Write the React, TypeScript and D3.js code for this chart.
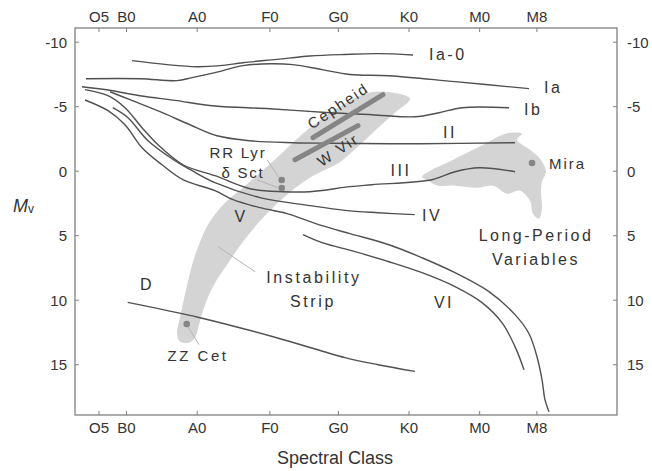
import React from "react";
import * as d3 from "d3";

type P = [number, number];

const W = 652;
const H = 471;

// Spectral class axis (O=0, B=1, A=2, F=3, G=4, K=5, M=6; subclass/10)
const spectralLabels = ["O5", "B0", "A0", "F0", "G0", "K0", "M0", "M8"];
const spectralValues = [0.61, 1, 2, 3.03, 4, 5, 6, 6.81];
const mvTicks = [-10, -5, 0, 5, 10, 15];

// Luminosity class sequences [spectral, Mv]
const seqIa0: P[] = [[1.077, -8.57], [1.573, -8.26], [1.998, -8.1], [2.323, -8.18], [2.649, -8.41], [3.13, -8.67], [3.597, -8.93], [4.093, -9.05], [4.561, -9.11], [5.056, -9.01]];
const seqIa: P[] = [[0.426, -7.17], [1.19, -7.17], [1.714, -7.02], [1.927, -7.25], [2.252, -7.64], [2.649, -8.18], [3.03, -8.33], [3.357, -8.26], [3.768, -7.87], [4.164, -7.5], [4.716, -7.4], [5.651, -6.94], [6.699, -6.4]];
const seqIb: P[] = [[0.369, -6.55], [0.737, -6.29], [1.214, -5.83], [1.686, -5.49], [2.252, -5.05], [3.031, -4.84], [3.881, -4.53], [4.475, -4.38], [5.084, -4.22], [5.424, -4.53], [5.75, -4.92], [6.416, -4.92]];
const seqII: P[] = [[0.766, -6.16], [1.049, -5.54], [1.474, -4.61], [1.898, -3.6], [2.281, -2.75], [2.748, -2.36], [3.357, -2.21], [3.881, -2.17], [5.155, -2.13], [6.501, -2.21]];
const seqIII: P[] = [[0.412, -6.32], [0.737, -5.85], [0.978, -4.92], [1.219, -3.37], [1.445, -2.05], [1.799, -0.5], [2.252, 0.35], [2.748, 1.36], [3.215, 1.59], [3.597, 1.59], [4.164, 1.2], [4.475, 1.05], [5.325, 0.66], [5.651, 0.04], [5.991, -0.27], [6.501, 0.04]];
const seqIV: P[] = [[0.804, -4.92], [1.02, -4.15], [1.304, -2.36], [1.686, -0.81], [1.927, -0.04], [2.252, 0.89], [2.89, 2.05], [3.597, 2.67], [4.093, 3.04], [4.561, 3.22], [5.08, 3.37]];
const seqV: P[] = [[0.412, -5.52], [0.737, -4.69], [0.978, -3.6], [1.219, -1.82], [1.502, -0.5], [1.799, 0.66], [2.252, 1.51], [2.507, 2.21], [2.89, 2.83], [3.272, 3.29], [3.768, 4.22], [4.164, 4.84], [4.716, 5.7], [5.184, 6.71], [5.651, 7.87], [6.132, 9.34], [6.501, 11.12], [6.699, 12.6], [6.812, 14.38], [6.883, 16.16], [6.925, 17.71], [6.982, 18.64]];
const seqVI: P[] = [[3.498, 4.92], [3.768, 5.54], [4.235, 6.24], [4.716, 7.02], [5.184, 7.87], [5.651, 8.95], [6.033, 10.19], [6.316, 11.74], [6.501, 13.6], [6.628, 15.39]];
const seqD: P[] = [[1.016, 10.17], [2.04, 11.36], [3.126, 12.91], [4.093, 14.45], [4.561, 15.0], [5.084, 15.52]];

// Regions
const instabilityStrip: P[] = [[1.757, 13.22], [1.714, 12.52], [1.757, 11.36], [1.842, 9.19], [1.941, 7.02], [2.026, 5.7], [2.153, 4.15], [2.394, 2.44], [2.649, 1.28], [3.13, -1.05], [3.597, -3.37], [4.065, -5.16], [4.376, -6.01], [4.66, -6.16], [5.014, -5.62], [4.801, -4.53], [4.561, -3.37], [4.306, -2.05], [4.008, -0.66], [3.668, 0.27], [3.357, 1.43], [2.932, 3.6], [2.649, 5.47], [2.422, 7.25], [2.238, 8.8], [2.111, 10.35], [2.026, 11.9], [1.969, 12.91], [1.884, 13.29]];
const longPeriodRegion: P[] = [[5.184, 0.43], [5.325, -0.12], [5.509, -0.58], [5.792, -1.36], [6.076, -2.13], [6.288, -2.75], [6.43, -2.98], [6.6, -2.91], [6.529, -2.44], [6.713, -1.67], [6.855, -0.97], [6.94, 0.04], [6.883, 0.81], [6.869, 1.67], [6.883, 2.83], [6.84, 3.68], [6.755, 3.29], [6.713, 2.29], [6.571, 1.51], [6.387, 1.74], [6.189, 1.12], [5.977, 1.28], [5.651, 1.12], [5.41, 1.12], [5.268, 0.74]];

// Variable-star bands
const cepheidBar: P[] = [[3.64, -2.6], [4.631, -5.93]];
const wVirBar: P[] = [[3.385, -0.89], [4.277, -3.53]];

// Individual stars
const stars: P[] = [[3.197, 0.68], [3.197, 1.3], [1.852, 11.84], [6.742, -0.64]];

// Leader lines
const leaders: [P, P][] = [
  [[2.989, -0.89], [3.159, 0.51]],
  [[2.847, 0.66], [3.144, 1.28]],
  [[2.295, 5.85], [2.819, 7.79]],
  [[1.87, 12.05], [2.026, 13.45]],
];

// Labels: [text, spectral, Mv, anchor, rotate, size, spacing]
type Lab = [string, number, number, "start" | "middle" | "end", number, number, number];
const labels: Lab[] = [
  ["Ia-0", 5.283, -9.03, "start", 0, 16, 2.5],
  ["Ia", 6.911, -6.47, "start", 0, 16, 2.5],
  ["Ib", 6.628, -4.77, "start", 0, 16, 2.5],
  ["II", 5.58, -2.98, "middle", 0, 16, 2.5],
  ["III", 4.886, -0.04, "middle", 0, 16, 2.5],
  ["IV", 5.184, 3.45, "start", 0, 16, 2.5],
  ["V", 2.621, 3.53, "middle", 0, 16, 2.5],
  ["VI", 5.495, 10.19, "middle", 0, 16, 2.5],
  ["D", 1.29, 8.8, "middle", 0, 16, 2.5],
  ["Mira", 6.982, -0.58, "start", 0, 15, 2],
  ["RR Lyr", 2.578, -1.43, "middle", 0, 15, 1.8],
  ["δ Sct", 2.649, 0.12, "middle", 0, 15, 1.8],
  ["ZZ Cet", 2.012, 14.3, "middle", 0, 15, 2.5],
  ["Instability", 3.654, 8.26, "middle", 0, 16, 2.6],
  ["Strip", 3.64, 10.12, "middle", 0, 16, 2.6],
  ["Long-Period", 6.798, 5.0, "middle", 0, 16, 2.5],
  ["Variables", 6.798, 6.86, "middle", 0, 16, 2.5],
  ["Cepheid", 3.994, -5.08, "middle", -34, 15, 2],
  ["W Vir", 3.994, -1.67, "middle", -34, 15, 2],
];

const sequences: P[][] = [seqIa0, seqIa, seqIb, seqII, seqIII, seqIV, seqV, seqVI, seqD];

const left = 75, right = 617, top = 28, bottom = 415;
const FONT = "'Liberation Sans', Arial, Helvetica, sans-serif";

export default function App() {
  const x = d3.scaleLinear().domain([0.27, 7.945]).range([left, right]);
  const y = d3.scaleLinear().domain([-11.1, 18.9]).range([top, bottom]);

  const line = d3
    .line<P>()
    .x((d) => x(d[0]))
    .y((d) => y(d[1]))
    .curve(d3.curveCatmullRom.alpha(0.5));
  const closed = d3
    .line<P>()
    .x((d) => x(d[0]))
    .y((d) => y(d[1]))
    .curve(d3.curveCatmullRomClosed.alpha(0.5));
  const straight = d3
    .line<P>()
    .x((d) => x(d[0]))
    .y((d) => y(d[1]));

  const frame = "#808080";
  const ink = "#333";
  const tickLen = 4;

  return (
    <svg
      width={W}
      height={H}
      viewBox={`0 0 ${W} ${H}`}
      style={{ position: "absolute", left: 0, top: 0, background: "#fff", fontFamily: FONT }}
    >
      {/* regions */}
      <path d={closed(instabilityStrip) || ""} fill="#d4d4d4" />
      <path d={closed(longPeriodRegion) || ""} fill="#d4d4d4" />

      {/* leaders */}
      {leaders.map((l, i) => (
        <path key={"ld" + i} d={straight(l) || ""} stroke="#b5b5b5" strokeWidth={1} fill="none" />
      ))}

      {/* sequences */}
      {sequences.map((s, i) => (
        <path key={"s" + i} d={line(s) || ""} stroke="#505050" strokeWidth={1.4} fill="none" />
      ))}

      {/* variable bars */}
      {[cepheidBar, wVirBar].map((b, i) => (
        <path key={"b" + i} d={straight(b) || ""} stroke="#858585" strokeWidth={5} strokeLinecap="round" fill="none" />
      ))}

      {/* stars */}
      {stars.map((s, i) => (
        <circle key={"st" + i} cx={x(s[0])} cy={y(s[1])} r={3.3} fill="#858585" />
      ))}

      {/* labels */}
      {labels.map(([t, sv, mv, anchor, rot, size, sp], i) => (
        <text
          key={"lb" + i}
          x={x(sv)}
          y={y(mv)}
          textAnchor={anchor}
          dominantBaseline="central"
          fontSize={size}
          fill={ink}
          style={{ letterSpacing: `${sp}px` }}
          transform={rot ? `rotate(${rot} ${x(sv)} ${y(mv)})` : undefined}
        >
          {t}
        </text>
      ))}

      {/* frame */}
      <rect x={left} y={top} width={right - left} height={bottom - top} fill="none" stroke={frame} strokeWidth={1.3} />

      {/* x ticks top & bottom */}
      {spectralValues.map((v, i) => (
        <g key={"xt" + i}>
          <line x1={x(v)} x2={x(v)} y1={top} y2={top + tickLen} stroke={frame} strokeWidth={1} />
          <line x1={x(v)} x2={x(v)} y1={bottom} y2={bottom - tickLen} stroke={frame} strokeWidth={1} />
          <text x={x(v)} y={16} textAnchor="middle" dominantBaseline="central" fontSize={15} fill={ink}>
            {spectralLabels[i]}
          </text>
          <text x={x(v)} y={427} textAnchor="middle" dominantBaseline="central" fontSize={15} fill={ink}>
            {spectralLabels[i]}
          </text>
        </g>
      ))}

      {/* y ticks left & right */}
      {mvTicks.map((m) => (
        <g key={"yt" + m}>
          <line x1={left} x2={left + tickLen} y1={y(m)} y2={y(m)} stroke={frame} strokeWidth={1} />
          <line x1={right} x2={right - tickLen} y1={y(m)} y2={y(m)} stroke={frame} strokeWidth={1} />
          <text x={67} y={y(m)} textAnchor="end" dominantBaseline="central" fontSize={15} fill={ink}>
            {m}
          </text>
          <text x={627} y={y(m)} textAnchor="start" dominantBaseline="central" fontSize={15} fill={ink}>
            {m}
          </text>
        </g>
      ))}

      {/* axis titles */}
      <text x={335} y={458} textAnchor="middle" dominantBaseline="central" fontSize={18} fill={ink}>
        Spectral Class
      </text>
      <text x={13} y={212} fontSize={18} fill={ink} fontStyle="italic">
        M
        <tspan fontSize={12} fontStyle="normal" dy={1}>v</tspan>
      </text>
    </svg>
  );
}
